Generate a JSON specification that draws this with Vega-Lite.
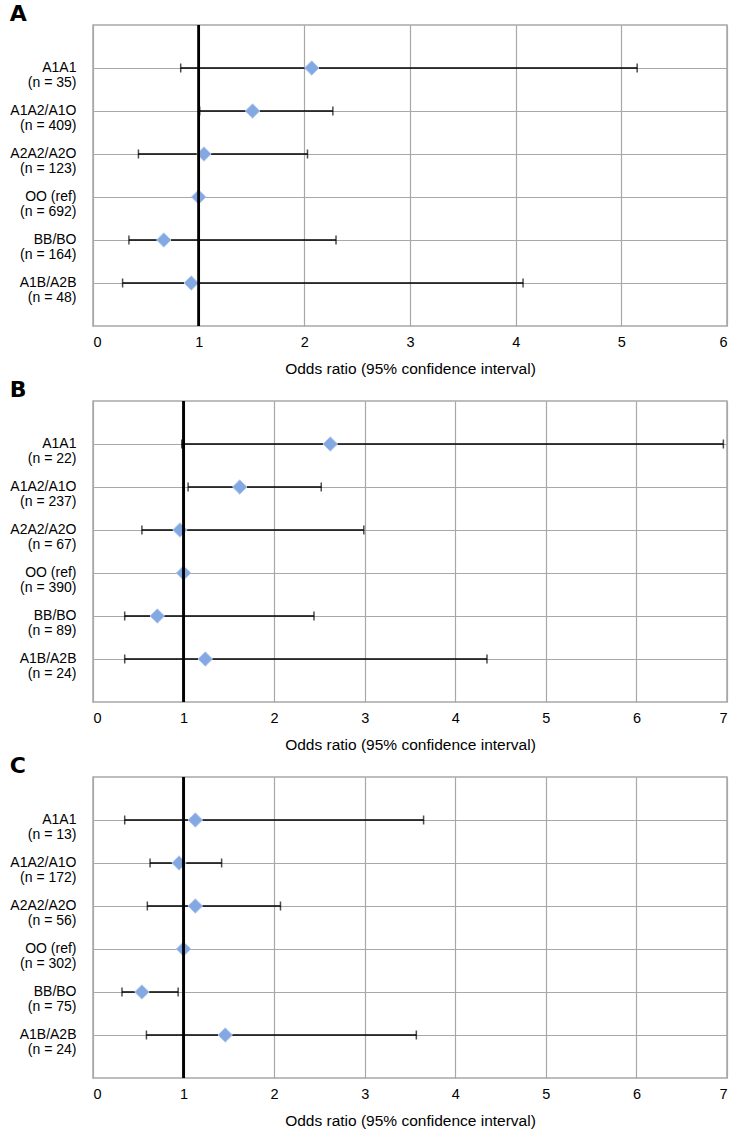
{
  "$schema": "https://vega.github.io/schema/vega-lite/v6.json",
  "padding": {"left": 9, "top": 2, "right": 10, "bottom": 0},
  "background": "white",
  "config": {
    "font": "Liberation Sans",
    "view": {"stroke": "#a8a8a8", "strokeWidth": 1.5},
    "axis": {"labelFont": "Liberation Sans", "titleFont": "Liberation Sans", "labelColor": "#000", "titleColor": "#000", "domain": false, "ticks": false, "gridColor": "#a8a8a8", "gridWidth": 1.2, "gridOpacity": 1},
    "title": {"anchor": "start", "frame": "bounds", "fontSize": 22, "fontWeight": 900, "font": "DejaVu Sans", "color": "#000", "offset": -2}
  },
  "data": {"values": [
    {"panel": "A", "order": 1, "label": "A1A1|(n = 35)", "or": 2.07, "lo": 0.83, "hi": 5.15},
    {"panel": "A", "order": 2, "label": "A1A2/A1O|(n = 409)", "or": 1.51, "lo": 1.01, "hi": 2.27},
    {"panel": "A", "order": 3, "label": "A2A2/A2O|(n = 123)", "or": 1.05, "lo": 0.43, "hi": 2.03},
    {"panel": "A", "order": 4, "label": "OO (ref)|(n = 692)", "or": 1.0, "lo": null, "hi": null},
    {"panel": "A", "order": 5, "label": "BB/BO|(n = 164)", "or": 0.67, "lo": 0.34, "hi": 2.30},
    {"panel": "A", "order": 6, "label": "A1B/A2B|(n = 48)", "or": 0.93, "lo": 0.28, "hi": 4.07},
    {"panel": "B", "order": 1, "label": "A1A1|(n = 22)", "or": 2.62, "lo": 0.98, "hi": 6.96},
    {"panel": "B", "order": 2, "label": "A1A2/A1O|(n = 237)", "or": 1.62, "lo": 1.05, "hi": 2.52},
    {"panel": "B", "order": 3, "label": "A2A2/A2O|(n = 67)", "or": 0.96, "lo": 0.54, "hi": 2.99},
    {"panel": "B", "order": 4, "label": "OO (ref)|(n = 390)", "or": 1.0, "lo": null, "hi": null},
    {"panel": "B", "order": 5, "label": "BB/BO|(n = 89)", "or": 0.71, "lo": 0.35, "hi": 2.44},
    {"panel": "B", "order": 6, "label": "A1B/A2B|(n = 24)", "or": 1.24, "lo": 0.35, "hi": 4.35},
    {"panel": "C", "order": 1, "label": "A1A1|(n = 13)", "or": 1.13, "lo": 0.35, "hi": 3.65},
    {"panel": "C", "order": 2, "label": "A1A2/A1O|(n = 172)", "or": 0.95, "lo": 0.63, "hi": 1.42},
    {"panel": "C", "order": 3, "label": "A2A2/A2O|(n = 56)", "or": 1.13, "lo": 0.60, "hi": 2.07},
    {"panel": "C", "order": 4, "label": "OO (ref)|(n = 302)", "or": 1.0, "lo": null, "hi": null},
    {"panel": "C", "order": 5, "label": "BB/BO|(n = 75)", "or": 0.54, "lo": 0.32, "hi": 0.94},
    {"panel": "C", "order": 6, "label": "A1B/A2B|(n = 24)", "or": 1.46, "lo": 0.59, "hi": 3.57}
  ]},
  "spacing": 0,
  "resolve": {"scale": {"x": "independent", "y": "independent"}},
  "vconcat": [
    {
      "title": "A",
      "width": 634, "height": 301,
      "transform": [{"filter": "datum.panel === 'A'"}],
      "layer": [
        {"transform": [{"filter": "isValid(datum.lo)"}],
         "mark": {"type": "rule", "color": "#000", "strokeWidth": 1.5},
         "encoding": {
           "y": {"field": "label", "type": "nominal", "sort": {"field": "order"}, "scale": {"type": "point", "padding": 1},
                 "axis": {"title": null, "grid": true, "labelExpr": "split(datum.label, '|')", "labelFontSize": 14, "labelLineHeight": 15.5, "labelPadding": 17, "labelOffset": -1}},
           "x": {"field": "lo", "type": "quantitative", "scale": {"domain": [0, 6], "nice": false},
                 "axis": {"values": [0,1,2,3,4,5,6], "format": "d", "grid": true, "labelFontSize": 14.5, "labelPadding": 9, "title": "Odds ratio (95% confidence interval)", "titleFontSize": 15.5, "titleFontWeight": "normal", "titlePadding": 13}},
           "x2": {"field": "hi"}
         }},
        {"transform": [{"filter": "isValid(datum.lo)"}],
         "mark": {"type": "tick", "color": "#000", "size": 9, "thickness": 1.5, "orient": "vertical"},
         "encoding": {"y": {"field": "label", "type": "nominal", "sort": {"field": "order"}}, "x": {"field": "lo", "type": "quantitative"}}},
        {"transform": [{"filter": "isValid(datum.hi)"}],
         "mark": {"type": "tick", "color": "#000", "size": 9, "thickness": 1.5, "orient": "vertical"},
         "encoding": {"y": {"field": "label", "type": "nominal", "sort": {"field": "order"}}, "x": {"field": "hi", "type": "quantitative"}}},
        {"mark": {"type": "point", "shape": "diamond", "filled": true, "size": 210, "fill": "#84a8e2", "stroke": "#b7cdef", "strokeWidth": 1, "opacity": 1},
         "encoding": {"y": {"field": "label", "type": "nominal", "sort": {"field": "order"}}, "x": {"field": "or", "type": "quantitative"}}},
        {"mark": {"type": "rule", "color": "#000", "strokeWidth": 1.8},
         "encoding": {"x": {"datum": 1, "type": "quantitative"}}}
      ]
    },
    {
      "title": "B",
      "width": 634, "height": 301,
      "transform": [{"filter": "datum.panel === 'B'"}],
      "layer": [
        {"transform": [{"filter": "isValid(datum.lo)"}],
         "mark": {"type": "rule", "color": "#000", "strokeWidth": 1.5},
         "encoding": {
           "y": {"field": "label", "type": "nominal", "sort": {"field": "order"}, "scale": {"type": "point", "padding": 1},
                 "axis": {"title": null, "grid": true, "labelExpr": "split(datum.label, '|')", "labelFontSize": 14, "labelLineHeight": 15.5, "labelPadding": 17, "labelOffset": -1}},
           "x": {"field": "lo", "type": "quantitative", "scale": {"domain": [0, 7], "nice": false},
                 "axis": {"values": [0,1,2,3,4,5,6,7], "format": "d", "grid": true, "labelFontSize": 14.5, "labelPadding": 9, "title": "Odds ratio (95% confidence interval)", "titleFontSize": 15.5, "titleFontWeight": "normal", "titlePadding": 13}},
           "x2": {"field": "hi"}
         }},
        {"transform": [{"filter": "isValid(datum.lo)"}],
         "mark": {"type": "tick", "color": "#000", "size": 9, "thickness": 1.5, "orient": "vertical"},
         "encoding": {"y": {"field": "label", "type": "nominal", "sort": {"field": "order"}}, "x": {"field": "lo", "type": "quantitative"}}},
        {"transform": [{"filter": "isValid(datum.hi)"}],
         "mark": {"type": "tick", "color": "#000", "size": 9, "thickness": 1.5, "orient": "vertical"},
         "encoding": {"y": {"field": "label", "type": "nominal", "sort": {"field": "order"}}, "x": {"field": "hi", "type": "quantitative"}}},
        {"mark": {"type": "point", "shape": "diamond", "filled": true, "size": 210, "fill": "#84a8e2", "stroke": "#b7cdef", "strokeWidth": 1, "opacity": 1},
         "encoding": {"y": {"field": "label", "type": "nominal", "sort": {"field": "order"}}, "x": {"field": "or", "type": "quantitative"}}},
        {"mark": {"type": "rule", "color": "#000", "strokeWidth": 1.8},
         "encoding": {"x": {"datum": 1, "type": "quantitative"}}}
      ]
    },
    {
      "title": "C",
      "width": 634, "height": 301,
      "transform": [{"filter": "datum.panel === 'C'"}],
      "layer": [
        {"transform": [{"filter": "isValid(datum.lo)"}],
         "mark": {"type": "rule", "color": "#000", "strokeWidth": 1.5},
         "encoding": {
           "y": {"field": "label", "type": "nominal", "sort": {"field": "order"}, "scale": {"type": "point", "padding": 1},
                 "axis": {"title": null, "grid": true, "labelExpr": "split(datum.label, '|')", "labelFontSize": 14, "labelLineHeight": 15.5, "labelPadding": 17, "labelOffset": -1}},
           "x": {"field": "lo", "type": "quantitative", "scale": {"domain": [0, 7], "nice": false},
                 "axis": {"values": [0,1,2,3,4,5,6,7], "format": "d", "grid": true, "labelFontSize": 14.5, "labelPadding": 9, "title": "Odds ratio (95% confidence interval)", "titleFontSize": 15.5, "titleFontWeight": "normal", "titlePadding": 13}},
           "x2": {"field": "hi"}
         }},
        {"transform": [{"filter": "isValid(datum.lo)"}],
         "mark": {"type": "tick", "color": "#000", "size": 9, "thickness": 1.5, "orient": "vertical"},
         "encoding": {"y": {"field": "label", "type": "nominal", "sort": {"field": "order"}}, "x": {"field": "lo", "type": "quantitative"}}},
        {"transform": [{"filter": "isValid(datum.hi)"}],
         "mark": {"type": "tick", "color": "#000", "size": 9, "thickness": 1.5, "orient": "vertical"},
         "encoding": {"y": {"field": "label", "type": "nominal", "sort": {"field": "order"}}, "x": {"field": "hi", "type": "quantitative"}}},
        {"mark": {"type": "point", "shape": "diamond", "filled": true, "size": 210, "fill": "#84a8e2", "stroke": "#b7cdef", "strokeWidth": 1, "opacity": 1},
         "encoding": {"y": {"field": "label", "type": "nominal", "sort": {"field": "order"}}, "x": {"field": "or", "type": "quantitative"}}},
        {"mark": {"type": "rule", "color": "#000", "strokeWidth": 1.8},
         "encoding": {"x": {"datum": 1, "type": "quantitative"}}}
      ]
    }
  ]
}
